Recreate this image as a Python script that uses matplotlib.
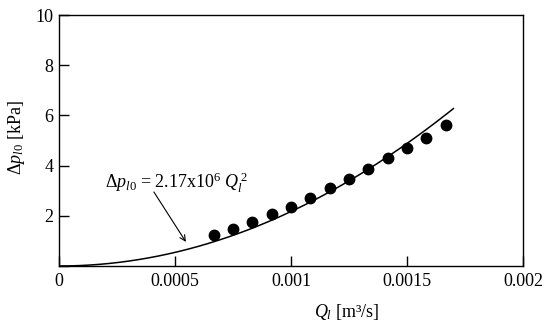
import numpy as np
import matplotlib
matplotlib.use("Agg")
import matplotlib.pyplot as plt

# Measured data points
Q_data = [0.000667, 0.000750, 0.000833, 0.000917, 0.001000, 0.001083, 0.001167,
          0.001250, 0.001333, 0.001417, 0.001500, 0.001583, 0.001667]
dp_data = [1.23, 1.47, 1.75, 2.06, 2.36, 2.70, 3.10, 3.47, 3.86, 4.31, 4.69, 5.09, 5.61]

# Fitted curve: dp = coef * Q^2 (coefficient as labelled on the chart)
fit_coef = 2.17e6
Q_fit_max = 0.0017

x_ticks = [0, 0.0005, 0.001, 0.0015, 0.002]
x_ticklabels = ["0", "0.0005", "0.001", "0.0015", "0.002"]
y_ticks = [2, 4, 6, 8, 10]
y_ticklabels = ["2", "4", "6", "8", "10"]

plt.rcParams['font.family'] = ['Liberation Serif', 'DejaVu Serif']
plt.rcParams['mathtext.fontset'] = 'custom'
plt.rcParams['mathtext.rm'] = 'Liberation Serif'
plt.rcParams['mathtext.it'] = 'Liberation Serif:italic'
plt.rcParams['mathtext.bf'] = 'Liberation Serif:bold'

fig = plt.figure(figsize=(5.5, 3.29), dpi=100)
ax = fig.add_axes([59/550, 63/329, 464/550, 251/329])

Q_fit = np.linspace(0, Q_fit_max, 200)
ax.plot(Q_fit, fit_coef * Q_fit**2, color='black', lw=1.1)
ax.plot(Q_data, dp_data, 'o', color='black', ms=7.5, mec='black')

ax.set_xlim(0, 0.002)
ax.set_ylim(0, 10)
ax.set_xticks(x_ticks)
ax.set_xticklabels(x_ticklabels)
ax.set_yticks([0] + y_ticks)
ax.set_yticklabels(["0"] + y_ticklabels)
ax.yaxis.get_major_ticks()[0].label1.set_visible(False)
ax.tick_params(direction='in', length=7, width=1.0, labelsize=13, pad=4)
ax.tick_params(axis='x', pad=5)
for s in ax.spines.values():
    s.set_linewidth(1.0)

ax.set_xlabel(r"$Q_l$ [m³/s]", fontsize=13)
ax.xaxis.set_label_coords(0.62, -0.145)
ax.set_ylabel(r"$\Delta p_{l0}$ [kPa]", fontsize=13)
ax.yaxis.set_label_coords(-0.07, 0.51)

ax.text(0.000197, 3.3, r"$\Delta p_{l0}$ = 2.17x10$^6$ $Q_l^{\,2}$",
        fontsize=13, ha='left', va='center')
ax.annotate("", xy=(0.000547, 0.96), xytext=(0.000409, 2.95),
            arrowprops=dict(arrowstyle='->', color='black', lw=0.8,
                            shrinkA=0, shrinkB=0))

fig.savefig("out.png", dpi=100)
